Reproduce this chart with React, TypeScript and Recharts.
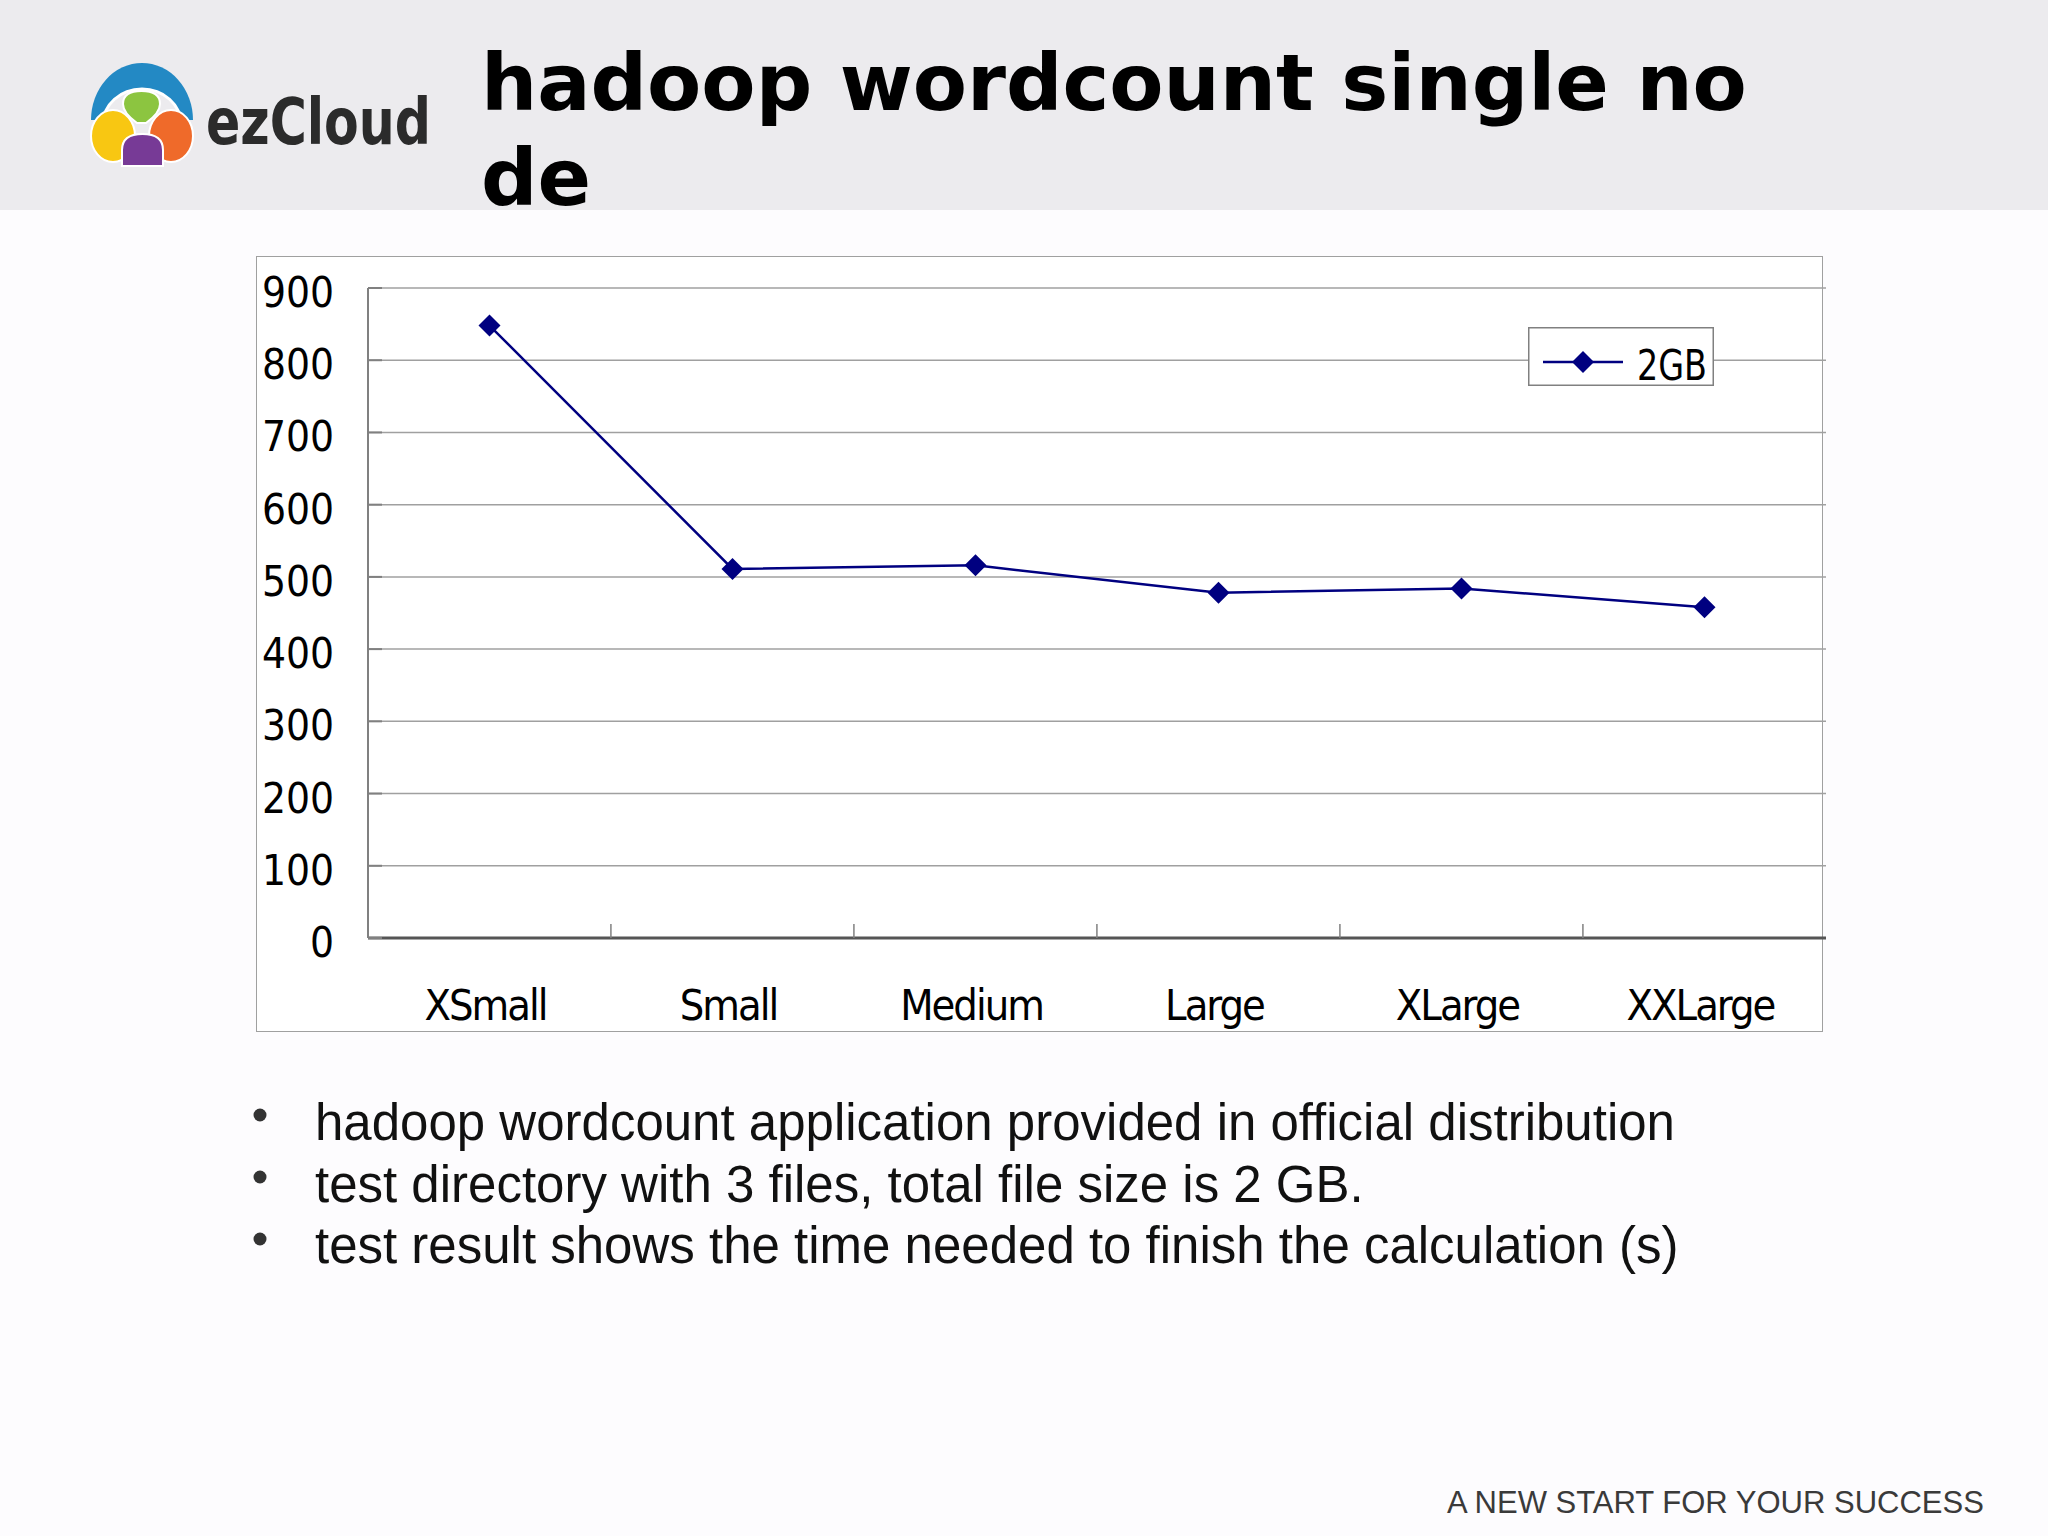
import { CartesianGrid, Legend, Line, LineChart, XAxis, YAxis } from "recharts";

const sizes = ["XSmall", "Small", "Medium", "Large", "XLarge", "XXLarge"];
const time2GB = [848, 511, 516, 478, 484, 458];
const yTicks = [0, 100, 200, 300, 400, 500, 600, 700, 800, 900];
const seriesName = "2GB";
const titleLines = ["hadoop wordcount single no", "de"];
const notes = [
  "hadoop wordcount application provided in official distribution",
  "test directory with 3 files, total file size is 2 GB.",
  "test result shows the time needed to finish the calculation (s)",
];
const footer = "A NEW START FOR YOUR SUCCESS";

const data = sizes.map((size, i) => ({ size, gb2: time2GB[i] }));

const NAVY = "#000080";
const chartFont = "'DejaVu Sans', Verdana, sans-serif";
const PLOT_W = 1457;
const HEADER_BG = "#ecebee";

function YTick(props: any) {
  const { x, y, payload } = props;
  return (
    <g>
      <line x1={x} x2={x + 14} y1={y} y2={y} stroke="#808080" strokeWidth={2} />
      <text x={x - 34} y={y + 19} textAnchor="end" fontSize={42} fill="#000"
        style={{ fontFamily: chartFont, fontStretch: "condensed" }}>
        {payload.value}
      </text>
    </g>
  );
}

function XTick(props: any) {
  const { x, y, payload, index } = props;
  const bw = PLOT_W / sizes.length;
  return (
    <g>
      {index < sizes.length - 1 && (
        <line x1={x + bw / 2} x2={x + bw / 2} y1={y} y2={y - 14} stroke="#808080" strokeWidth={1.5} />
      )}
      <text x={x - 4} y={y + 82} textAnchor="middle" fontSize={43} fill="#000" letterSpacing={-2}
        style={{ fontFamily: chartFont, fontStretch: "condensed" }}>
        {payload.value}
      </text>
    </g>
  );
}

function Diamond(props: any) {
  const { cx, cy } = props;
  if (cx == null || cy == null) return null;
  const r = 11;
  return <path d={`M${cx} ${cy - r}L${cx + r} ${cy}L${cx} ${cy + r}L${cx - r} ${cy}Z`} fill={NAVY} />;
}

function LegendBox(props: any) {
  const item = props.payload && props.payload[0];
  return (
    <svg width={186} height={70} style={{ display: "block", overflow: "visible" }}>
      <rect x={0.75} y={0.75} width={184.5} height={57.5} fill="#fff" stroke="#808080" strokeWidth={1.5} />
      <line x1={15} x2={95} y1={35} y2={35} stroke={NAVY} strokeWidth={2.5} />
      <Diamond cx={55} cy={35} />
      <text x={109} y={53} fontSize={43} fill="#000" textLength={70} lengthAdjust="spacingAndGlyphs"
        style={{ fontFamily: chartFont, fontStretch: "condensed" }}>
        {item ? item.value : seriesName}
      </text>
    </svg>
  );
}

function Logo() {
  return (
    <g>
      <path d="M91 120 A51 57 0 0 1 193 120 Z" fill="#2389c4" />
      <ellipse cx={142} cy={124} rx={39} ry={35} fill={HEADER_BG} stroke="#fff" strokeWidth={3} />
      <path d="M123 104 Q123 91 141.5 91 Q160 91 160 104 Q160 113 146 123 L137 123 Q123 113 123 104 Z"
        fill="#8cc540" stroke="#fff" strokeWidth={2} />
      <ellipse cx={113} cy={136} rx={22} ry={26} fill="#f8c712" stroke="#fff" strokeWidth={2} />
      <ellipse cx={171} cy={136} rx={22} ry={26} fill="#ef6a2a" stroke="#fff" strokeWidth={2} />
      <path d="M122 166 L122 150 Q122 134 142.5 134 Q163 134 163 150 L163 166 Z" fill="#773a96" stroke="#fff" strokeWidth={2} />
      <text x={206} y={144} fontSize={64} fontWeight="bold" fill="#2b2b2b" textLength={225}
        lengthAdjust="spacingAndGlyphs" style={{ fontFamily: "'DejaVu Sans', sans-serif", fontStretch: "condensed" }}>
        ezCloud
      </text>
    </g>
  );
}

export default function App() {
  return (
    <div style={{ position: "absolute", left: 0, top: 0, width: 2048, height: 1536, background: "#fdfcfe", overflow: "hidden" }}>
      <div style={{ position: "absolute", left: 0, top: 0, width: 2048, height: 210, background: HEADER_BG }} />
      <svg width={2048} height={1536} style={{ position: "absolute", left: 0, top: 0 }}>
        <Logo />
        {titleLines.map((t, i) => (
          <text key={t} x={481} y={110 + i * 95} fontSize={79} fontWeight="bold" fill="#000"
            style={{ fontFamily: "'DejaVu Sans', sans-serif" }}>
            {t}
          </text>
        ))}
        {notes.map((n, i) => (
          <g key={n}>
            <circle cx={260} cy={1115 + i * 62} r={6.5} fill="#333" />
            <text x={315} y={1140 + i * 61.5} fontSize={51} fill="#111"
              style={{ fontFamily: "'Liberation Sans', Arial, sans-serif" }}>
              {n}
            </text>
          </g>
        ))}
        <text x={1447} y={1513} fontSize={31} fill="#3a3a3a" style={{ fontFamily: "'Liberation Sans', Arial, sans-serif" }}>
          {footer}
        </text>
      </svg>
      <div style={{ position: "absolute", left: 256, top: 256, width: 1567, height: 776, boxSizing: "border-box", border: "1.5px solid #a0a0a0", background: "#fff" }} />
      <div style={{ position: "absolute", left: 256, top: 256 }}>
        <LineChart width={1570} height={776} data={data} margin={{ top: 32, right: 0, left: 0, bottom: 0 }}>
          <CartesianGrid vertical={false} stroke="#a0a0a0" strokeWidth={1.5} />
          <XAxis dataKey="size" scale="band" interval={0} height={94} tickSize={0} tickMargin={0}
            axisLine={{ stroke: "#555", strokeWidth: 3 }} tick={<XTick />} />
          <XAxis xAxisId="top" dataKey="size" orientation="top" scale="band" height={0} tick={false}
            tickLine={false} axisLine={{ stroke: "#808080", strokeWidth: 2 }} />
          <YAxis domain={[0, 900]} ticks={yTicks} width={112} tickSize={0} tickMargin={0}
            axisLine={{ stroke: "#808080", strokeWidth: 2 }} tick={<YTick />} />
          <YAxis yAxisId="right" orientation="right" domain={[0, 900]} ticks={yTicks} width={0} tick={false}
            tickLine={false} axisLine={{ stroke: "#808080", strokeWidth: 2.5 }} />
          <Legend layout="horizontal" verticalAlign="middle" align="center" content={<LegendBox />}
            wrapperStyle={{ position: "absolute", left: 1272, top: 71, width: 186, height: 70 }} />
          <Line dataKey="gb2" name={seriesName} stroke={NAVY} strokeWidth={2.5} dot={<Diamond />}
            activeDot={false} isAnimationActive={false} />
        </LineChart>
      </div>
    </div>
  );
}
